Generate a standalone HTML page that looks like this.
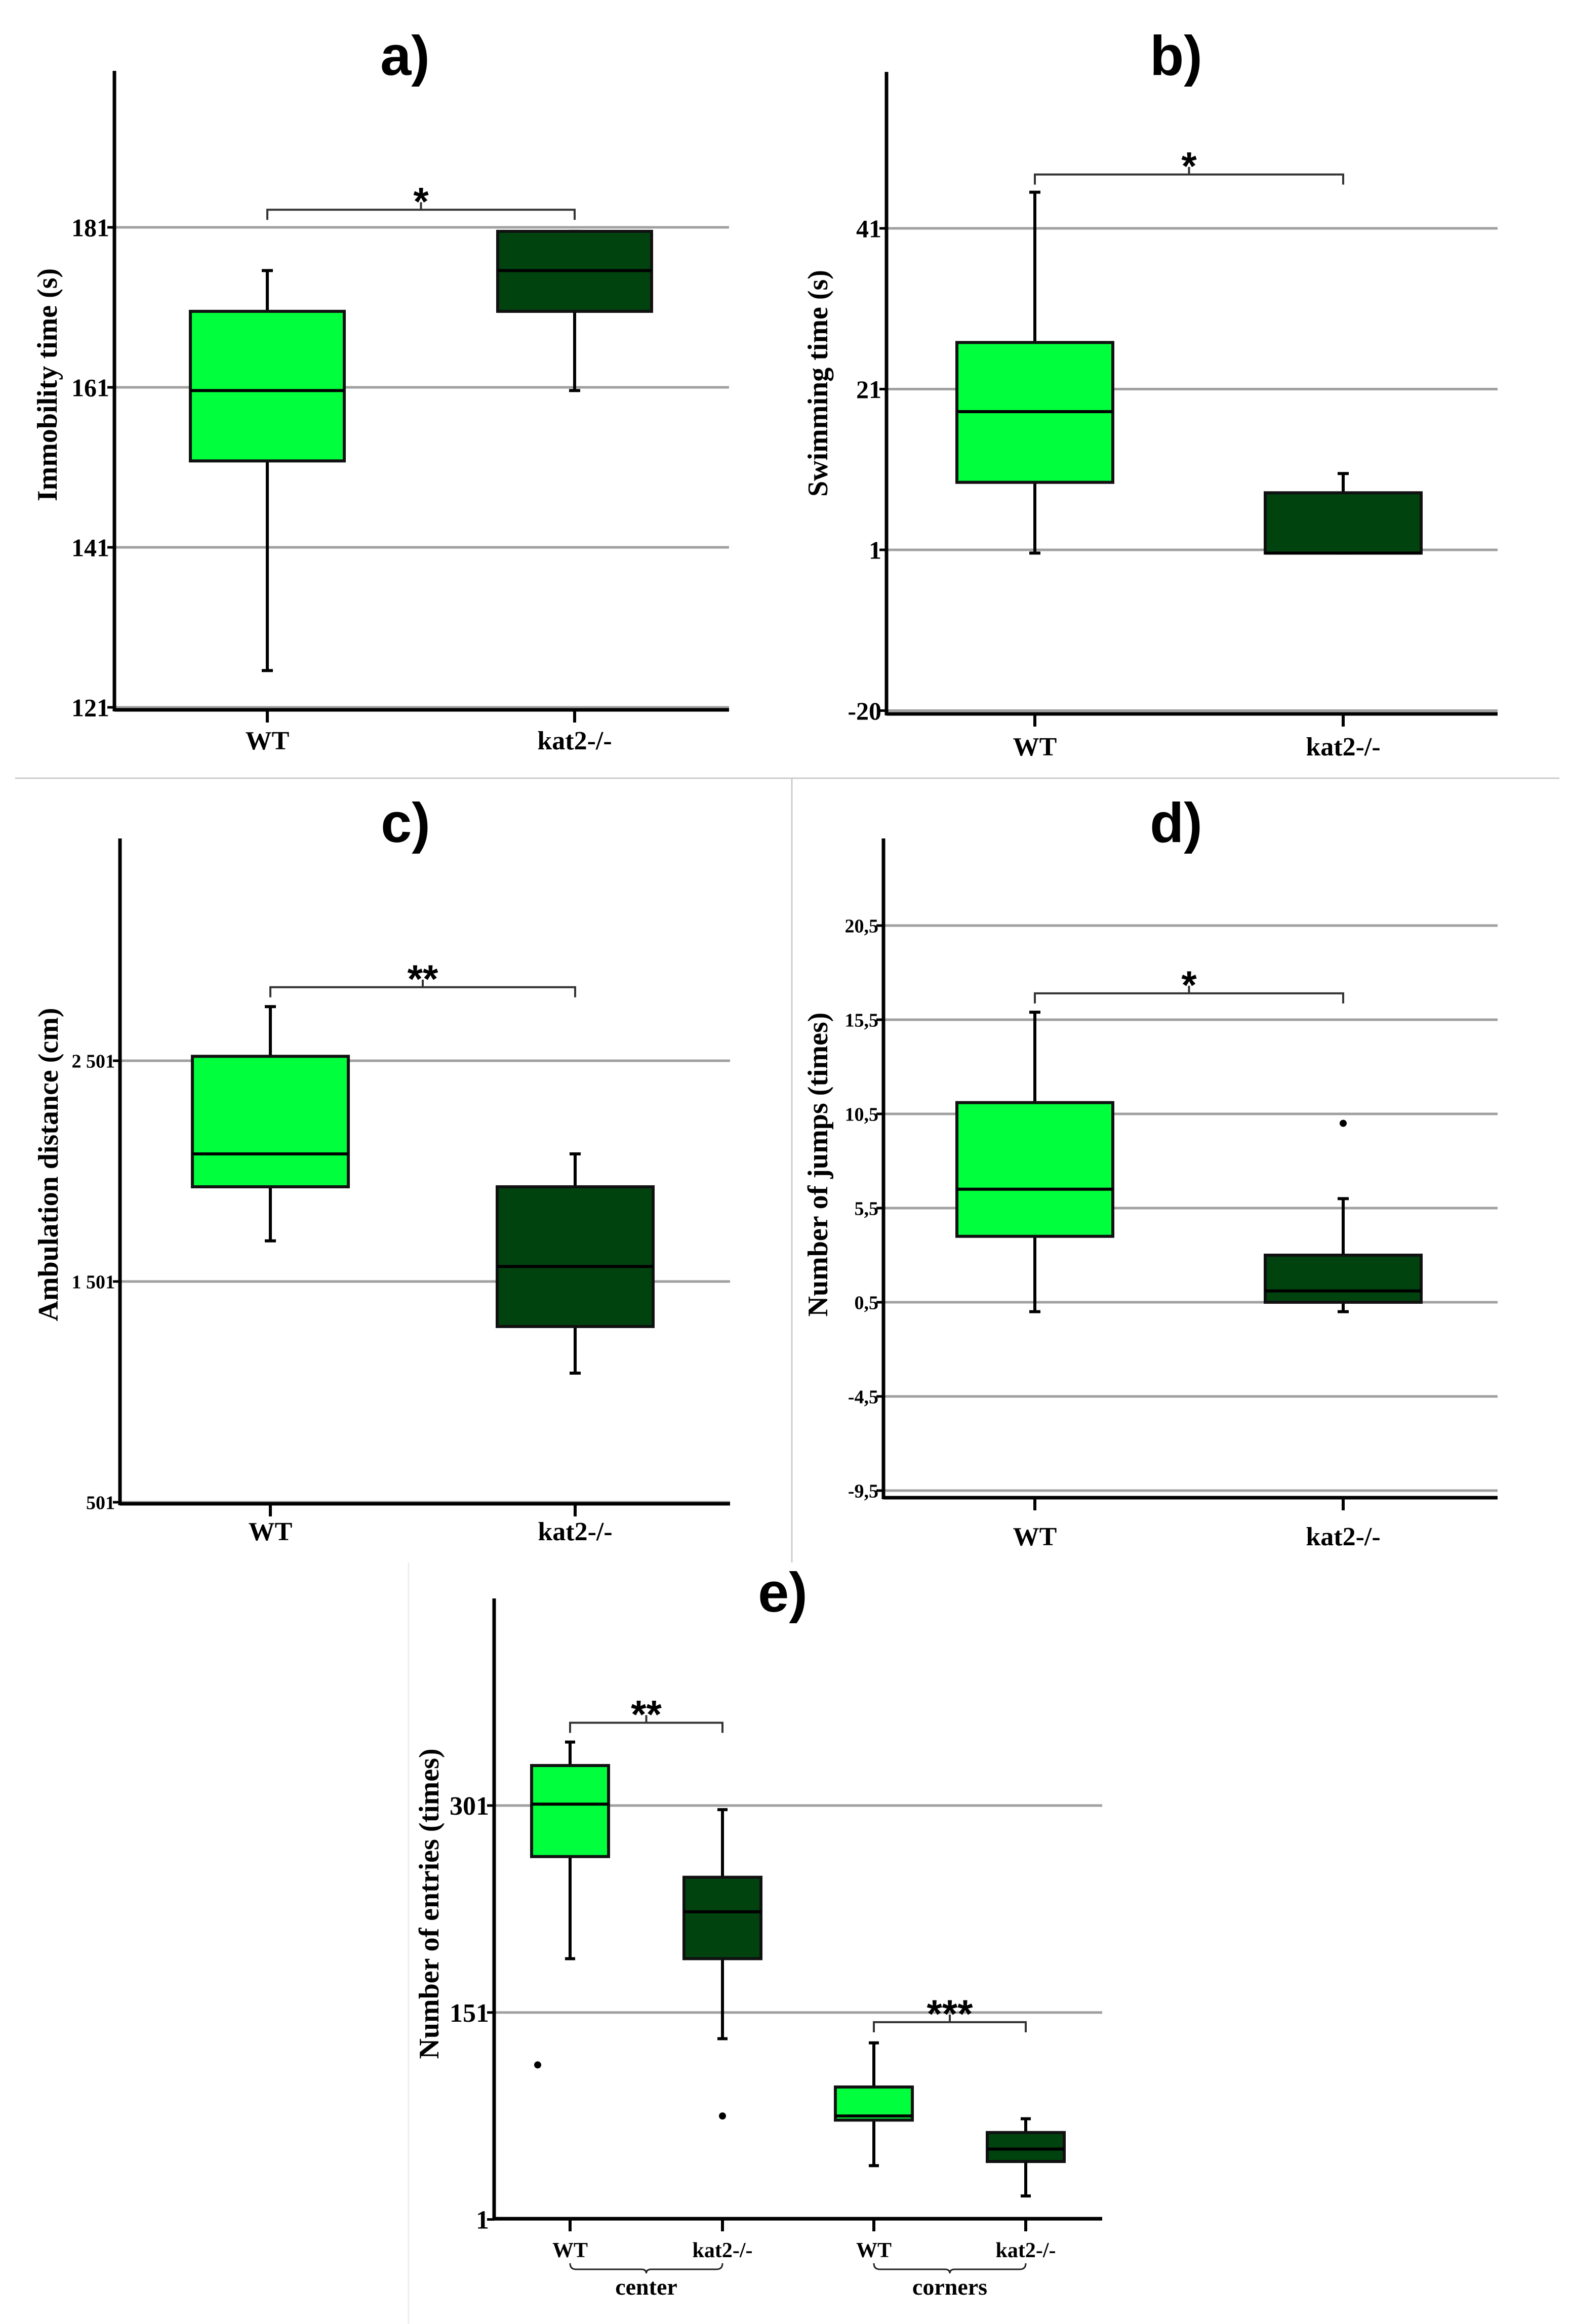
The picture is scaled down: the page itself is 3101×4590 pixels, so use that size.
<!DOCTYPE html>
<html><head><meta charset="utf-8"><style>
html,body{margin:0;padding:0;background:#fff}
svg{display:block}
</style></head><body>
<svg id="fig" width="3101" height="4590" viewBox="0 0 3101 4590" xmlns="http://www.w3.org/2000/svg">
<rect width="3101" height="4590" fill="#fff"/>
<line x1="30" y1="1537" x2="3080" y2="1537" stroke="#ccc" stroke-width="3"/>
<line x1="1564" y1="1537" x2="1564" y2="3086" stroke="#ccc" stroke-width="3"/>
<line x1="807" y1="3086" x2="807" y2="4590" stroke="#eee" stroke-width="3"/>
</svg>
<script>
// ---- data ----
const catsAB = ["WT","kat2-/-"];
const catsE = ["WT","kat2-/-","WT","kat2-/-"];
const aMin=[125.6,160.6], aQ1=[151.8,170.5], aMed=[160.6,175.6], aQ3=[170.5,180.5], aMax=[175.6,180.5];
const aTicks=[181,161,141,121];
const bMin=[0.6,0.6], bQ1=[9.4,0.6], bMed=[18.2,0.6], bQ3=[26.8,8.1], bMax=[45.5,10.5];
const bTicks=[41,21,1,-19], bTickLabels=["41","21","1","-20"];
const cMin=[1685,1086], cQ1=[1930,1297], cMed=[2079,1569], cQ3=[2521,1930], cMax=[2746,2079];
const cTicks=[2501,1501,501], cTickLabels=["2 501","1 501","501"];
const dMin=[0.0,0.0], dQ1=[4.0,0.5], dMed=[6.5,1.1], dQ3=[11.1,3.0], dMax=[15.9,6.0];
const dOutliers=[null,10.0];
const dTicks=[20.5,15.5,10.5,5.5,0.5,-4.5,-9.5], dTickLabels=["20,5","15,5","10,5","5,5","0,5","-4,5","-9,5"];
const eMin=[190,132,40,18], eQ1=[264,190,73,43], eMed=[302,224,76,52], eQ3=[330,249,97,64], eMax=[347,298,129,74];
const eOutliers=[113,76,null,null];
const eTicks=[301,151,1];
const colors=["#00ff3c","#00430f","#00ff3c","#00430f"];

const svg=document.getElementById('fig');
const NS="http://www.w3.org/2000/svg";
function mk(tag,attrs,name,parent){
  const e=document.createElementNS(NS,tag);
  for(const k in attrs) e.setAttribute(k,attrs[k]);
  
  
  (parent||svg).appendChild(e);return e;
}
function txt(x,y,s,size,name,opts){
  opts=opts||{};
  const t=mk('text',{x:x,y:y,'font-size':size,'font-weight':'bold','font-family':opts.sans?'"Liberation Sans", sans-serif':'"Liberation Serif", serif','text-anchor':opts.anchor||'middle',fill:'#000'},name);
  if(opts.rot) t.setAttribute('transform','rotate(-90 '+x+' '+y+')');
  t.textContent=s;return t;
}
function panel(p){
  const g=mk('g',{},p.id);
  const y=v=>p.y0+(p.v0-v)*p.k;
  p.ticks.forEach((v,i)=>{
    mk('line',{x1:p.ax,x2:p.right,y1:y(v),y2:y(v),stroke:'#a0a0a0','stroke-width':5},'gridline-'+i,g);
    mk('line',{x1:p.ax-14,x2:p.ax,y1:y(v),y2:y(v),stroke:'#000','stroke-width':5},'y-tick-'+i,g);
    txt(p.ax-10,y(v)+p.tfs*0.35,(p.tickLabels||p.ticks)[i],p.tfs,'y-tick-label-'+i,{anchor:'end'});
  });
  mk('line',{x1:p.ax,x2:p.ax,y1:p.top,y2:p.bottom+3,stroke:'#000','stroke-width':7},'y-axis',g);
  mk('line',{x1:p.ax,x2:p.right,y1:p.bottom,y2:p.bottom,stroke:'#000','stroke-width':7},'x-axis',g);
  p.cats.forEach((c,i)=>{
    const cx=p.cx[i];
    mk('line',{x1:cx,x2:cx,y1:p.bottom,y2:p.bottom+25,stroke:'#000','stroke-width':6},'x-tick-'+i,g);
    txt(cx,p.labY,c,p.cfs,'x-label-'+i);
    const hw=p.hw, cap=p.cap;
    mk('line',{x1:cx,x2:cx,y1:y(p.max[i]),y2:y(p.q3[i]),stroke:'#000','stroke-width':6},'whisker-upper-'+i,g);
    mk('line',{x1:cx,x2:cx,y1:y(p.q1[i]),y2:y(p.min[i]),stroke:'#000','stroke-width':6},'whisker-lower-'+i,g);
    mk('line',{x1:cx-cap,x2:cx+cap,y1:y(p.max[i]),y2:y(p.max[i]),stroke:'#000','stroke-width':6},'cap-upper-'+i,g);
    mk('line',{x1:cx-cap,x2:cx+cap,y1:y(p.min[i]),y2:y(p.min[i]),stroke:'#000','stroke-width':6},'cap-lower-'+i,g);
    mk('rect',{x:cx-hw,y:y(p.q3[i]),width:2*hw,height:Math.max(2,y(p.q1[i])-y(p.q3[i])),fill:colors[i],stroke:'#111','stroke-width':6},'box-'+i,g);
    mk('line',{x1:cx-hw,x2:cx+hw,y1:y(p.med[i]),y2:y(p.med[i]),stroke:'#000','stroke-width':6},'median-'+i,g);
    if(p.out&&p.out[i]!=null) mk('circle',{cx:cx+(p.outDx?p.outDx[i]:0),cy:y(p.out[i]),r:7,fill:'#000'},'outlier-'+i,g);
  });
  p.brackets.forEach((b,j)=>{
    const x1=p.cx[b.a],x2=p.cx[b.b],yy=y(b.v),m=(x1+x2)/2;
    mk('path',{d:`M${x1} ${yy+20}V${yy}H${x2}V${yy+20}M${m} ${yy}V${yy-15}`,fill:'none',stroke:'#333','stroke-width':4},'significance-bracket-'+j,g);
    txt(m,yy-25+b.s*0.45,b.t,b.s,'significance-stars-'+j,{sans:true});
  });
  txt(p.titleX,p.titleY,p.title,110,'panel-title',{sans:true});
  txt(p.ytX,p.ytY,p.ytitle,p.yfs,'y-axis-title',{rot:true});
}
panel({id:'panel-a',ax:226,top:140,bottom:1402,right:1440,y0:449,v0:181,k:15.8,ticks:aTicks,tfs:50,
  cats:catsAB,cx:[528,1135],hw:152,cap:11,labY:1480,cfs:52,min:aMin,q1:aQ1,med:aMed,q3:aQ3,max:aMax,
  brackets:[{a:0,b:1,v:183.2,t:'*',s:78}],title:'a)',titleX:800,titleY:148,ytitle:'Immobility time (s)',ytX:112,ytY:760,yfs:56});
panel({id:'panel-b',ax:1751,top:142,bottom:1410,right:2958,y0:451,v0:41,k:15.875,ticks:bTicks,tickLabels:bTickLabels,tfs:50,
  cats:catsAB,cx:[2044,2653],hw:154,cap:11,labY:1492,cfs:52,min:bMin,q1:bQ1,med:bMed,q3:bQ3,max:bMax,
  brackets:[{a:0,b:1,v:47.7,t:'*',s:78}],title:'b)',titleX:2323,titleY:148,ytitle:'Swimming time (s)',ytX:1634,ytY:757,yfs:56});
panel({id:'panel-c',ax:237,top:1656,bottom:2970,right:1442,y0:2095,v0:2501,k:0.436,ticks:cTicks,tickLabels:cTickLabels,tfs:38,
  cats:catsAB,cx:[534,1136],hw:154,cap:11,labY:3042,cfs:52,min:cMin,q1:cQ1,med:cMed,q3:cQ3,max:cMax,
  brackets:[{a:0,b:1,v:2834,t:'**',s:78}],title:'c)',titleX:801,titleY:1663,ytitle:'Ambulation distance (cm)',ytX:114,ytY:2300,yfs:56});
panel({id:'panel-d',ax:1745,top:1656,bottom:2958,right:2958,y0:2572,v0:0.5,k:37.2,ticks:dTicks,tickLabels:dTickLabels,tfs:38,
  cats:catsAB,cx:[2044,2653],hw:154,cap:11,labY:3052,cfs:52,min:dMin,q1:dQ1,med:dMed,q3:dQ3,max:dMax,out:dOutliers,
  brackets:[{a:0,b:1,v:16.9,t:'*',s:78}],title:'d)',titleX:2323,titleY:1663,ytitle:'Number of jumps (times)',ytX:1634,ytY:2300,yfs:56});
panel({id:'panel-e',ax:976,top:3157,bottom:4382,right:2177,y0:3566,v0:301,k:2.725,ticks:eTicks,tfs:52,
  cats:catsE,cx:[1126,1427,1726,2026],hw:76,cap:10,labY:4458,cfs:42,min:eMin,q1:eQ1,med:eMed,q3:eQ3,max:eMax,out:eOutliers,outDx:[-64,0,0,0],
  brackets:[{a:0,b:1,v:361,t:'**',s:78},{a:2,b:3,v:144,t:'***',s:78}],title:'e)',titleX:1546,titleY:3183,ytitle:'Number of entries (times)',ytX:866,ytY:3760,yfs:56});
[[1126,1427,'center'],[1726,2026,'corners']].forEach((b,i)=>{
  const m=(b[0]+b[1])/2, yy=4470;
  mk('path',{d:`M${b[0]} ${yy}q0 12 12 12H${m-10}q10 0 10 8q0 -8 10 -8H${b[1]-12}q12 0 12 -12`,fill:'none',stroke:'#222','stroke-width':3},'group-brace-'+i);
  txt(m,4532,b[2],46,'group-label-'+i);
});
</script>
</body></html>
